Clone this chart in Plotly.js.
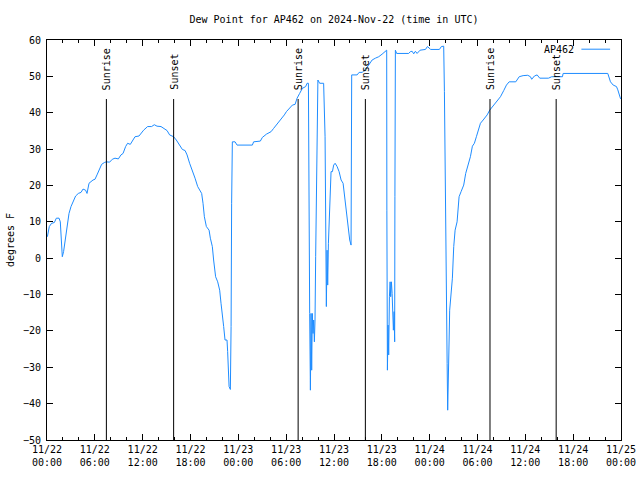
<!DOCTYPE html>
<html>
<head>
<meta charset="utf-8">
<script src="https://cdn.plot.ly/plotly-3.0.1.min.js"></script>
<style>html,body{margin:0;padding:0;background:#fff;}#chart{width:640px;height:480px;}</style>
</head>
<body>
<div id="chart"></div>
<script>
// Hours since 2024-11-22 00:00 UTC (each line pairs with the same line of dewPoint)
const hours = [
0.05,0.29,0.58,0.92,1.17,1.51,1.67,1.76,1.92,2.08,
2.26,2.42,2.58,2.76,3.01,3.34,3.59,3.93,4.27,4.52,
4.84,5.02,5.27,5.77,6.02,6.27,6.52,6.85,7.19,7.44,
7.85,8.19,8.53,8.95,9.28,9.54,9.86,10.11,10.45,10.79,
11.04,11.54,11.87,12.12,12.62,13.12,13.46,13.80,14.30,14.72,
15.06,15.38,15.88,16.22,16.56,16.98,17.32,17.57,17.89,18.23,
18.57,18.90,19.15,19.40,19.57,19.74,19.99,20.33,20.49,20.74,
20.90,21.15,21.41,21.66,21.83,22.00,22.16,22.33,22.58,22.66,
22.75,22.84,23.00,23.09,23.16,23.25,23.59,23.84,25.76,25.92,
26.76,27.01,27.52,28.11,28.43,28.77,29.11,29.44,29.77,30.03,
30.44,30.78,31.12,31.37,31.69,32.03,32.45,32.62,32.79,32.82,
32.95,33.04,33.12,33.20,33.28,33.37,33.45,33.54,33.62,33.70,
33.88,33.98,34.20,34.70,34.88,34.95,35.04,35.13,35.21,35.30,
35.46,35.55,35.63,35.80,35.96,36.14,36.39,36.64,36.89,37.14,
37.30,37.47,37.64,37.80,37.97,38.14,38.18,38.22,38.90,39.15,
39.56,39.81,40.15,40.35,40.78,41.19,41.61,42.03,42.36,42.61,
42.63,42.70,42.78,42.86,42.95,43.04,43.11,43.20,43.29,43.45,
43.54,43.61,43.64,43.70,43.86,45.37,45.58,45.80,46.00,46.21,
46.42,46.63,46.80,47.47,47.72,48.13,49.22,49.47,49.76,49.85,
49.94,50.10,50.19,50.26,50.35,50.44,50.51,50.69,50.85,51.02,
51.19,51.44,51.69,51.94,52.27,52.52,52.86,53.11,53.36,53.61,
53.86,54.12,54.37,54.71,55.21,55.53,55.87,56.21,56.54,56.88,
57.29,57.63,57.97,58.80,59.23,59.72,60.30,60.64,60.80,61.14,
61.48,61.81,62.90,63.31,64.66,64.74,70.34,70.68,71.02,71.43,
71.60,71.85,71.95
];
const dewPoint = [
5.9,8.7,9.6,9.8,11.0,11.0,10.0,5.9,0.4,1.8,
4.5,6.8,10.5,12.3,14.2,16.0,17.1,17.8,18.1,19.0,
18.7,17.8,20.6,21.5,21.7,22.9,24.2,25.8,26.3,26.5,
26.4,27.2,27.5,27.3,28.4,28.8,30.7,31.6,31.3,32.5,
33.4,33.6,34.5,35.2,36.2,36.2,36.7,36.3,36.2,35.6,
35.1,33.9,33.4,32.5,31.2,29.9,29.6,28.4,26.1,24.2,
22.0,19.7,18.7,17.8,15.1,11.4,8.7,7.7,5.5,3.2,
-0.5,-5.1,-6.5,-8.8,-12.4,-15.2,-18.8,-22.5,-22.5,-25.7,
-32.1,-35.3,-36.1,-18.8,15.1,32.0,32.0,31.1,31.1,32.0,
32.2,33.2,34.1,34.8,35.7,36.6,37.5,38.5,39.4,40.3,
41.2,42.1,42.3,44.0,45.3,46.7,47.2,48.1,48.1,27.5,
-15.2,-36.3,-15.2,-30.8,-15.2,-20.7,-17.0,-23.0,-17.0,0.4,
33.4,49.0,48.1,48.1,33.4,2.2,-13.3,2.2,-7.4,4.1,
13.2,20.1,23.8,23.8,25.6,26.1,25.2,23.8,21.5,20.6,
17.8,14.6,10.5,7.7,5.0,3.6,27.0,50.4,50.4,51.1,
51.1,51.6,52.5,53.1,54.5,55.0,55.4,56.1,56.8,57.2,
13.2,-30.8,-18.4,-26.6,-10.6,-6.5,-10.6,-6.5,-9.7,-19.8,
-14.7,-23.0,16.9,57.2,56.3,56.3,56.8,56.9,56.2,56.9,
56.3,56.9,57.2,57.4,58.2,57.4,57.4,58.2,58.3,45.8,
20.6,-4.2,-28.9,-41.8,-34.9,-22.5,-14.3,-10.1,-5.5,3.2,
7.7,10.0,16.9,18.3,20.1,23.3,25.6,27.9,30.8,31.6,
33.4,35.4,37.1,38.0,39.4,40.7,41.7,42.6,43.5,44.4,
46.1,47.6,48.5,48.5,49.9,50.2,50.3,49.9,49.2,50.1,
50.4,49.5,49.5,49.9,49.9,50.8,50.8,48.5,47.6,47.2,
46.3,44.0,43.8
];
const seriesName = 'AP462';
const sunriseTimes = ['2024-11-22 07:27', '2024-11-23 07:30', '2024-11-24 07:34'];
const sunsetTimes  = ['2024-11-22 15:53', '2024-11-23 15:56', '2024-11-24 15:52'];
const tickVals = ['2024-11-22 00:00','2024-11-22 06:00','2024-11-22 12:00','2024-11-22 18:00','2024-11-23 00:00','2024-11-23 06:00','2024-11-23 12:00','2024-11-23 18:00','2024-11-24 00:00','2024-11-24 06:00','2024-11-24 12:00','2024-11-24 18:00','2024-11-25 00:00'];
const tickText = ['11/22<br>00:00','11/22<br>06:00','11/22<br>12:00','11/22<br>18:00','11/23<br>00:00','11/23<br>06:00','11/23<br>12:00','11/23<br>18:00','11/24<br>00:00','11/24<br>06:00','11/24<br>12:00','11/24<br>18:00','11/25<br>00:00'];

const t0 = Date.UTC(2024, 10, 22, 0, 0, 0);
function fmt(ms) {
  const d = new Date(ms);
  const p = n => String(n).padStart(2, '0');
  return d.getUTCFullYear() + '-' + p(d.getUTCMonth() + 1) + '-' + p(d.getUTCDate()) + ' ' +
         p(d.getUTCHours()) + ':' + p(d.getUTCMinutes()) + ':' + p(d.getUTCSeconds());
}
const times = hours.map(h => fmt(t0 + Math.round(h * 3600) * 1000));

const FONT = 'DejaVu Sans Mono, Liberation Mono, monospace';
const BLUE = '#1E8CFF';

const shapes = [];
const annotations = [];
sunriseTimes.concat(sunsetTimes).forEach((t, i) => {
  const label = i < sunriseTimes.length ? 'Sunrise' : 'Sunset';
  shapes.push({type: 'line', xref: 'x', yref: 'paper', x0: t, x1: t, y0: 0, y1: 0.8525,
               line: {color: '#000', width: 1}});
  annotations.push({xref: 'x', yref: 'paper', x: t, y: 0.87, text: label, textangle: -90,
                    showarrow: false, xanchor: 'center', yanchor: 'bottom',
                    font: {family: FONT, size: 10, color: '#000'}});
});
// legend (text then sample line, gnuplot style)
annotations.push({xref: 'paper', yref: 'paper', x: 0.921, y: 0.977, text: seriesName,
                  showarrow: false, xanchor: 'right', yanchor: 'middle',
                  font: {family: FONT, size: 10, color: '#000'}});
shapes.push({type: 'line', xref: 'paper', yref: 'paper', x0: 0.931, x1: 0.981, y0: 0.977, y1: 0.977,
             line: {color: BLUE, width: 1}});

const trace = {
  x: times, y: dewPoint, type: 'scatter', mode: 'lines', name: seriesName,
  line: {color: BLUE, width: 1, shape: 'linear'}, showlegend: false
};

const layout = {
  width: 640, height: 480,
  margin: {l: 47, r: 19, t: 40, b: 40, pad: 0},
  paper_bgcolor: '#fff', plot_bgcolor: '#fff',
  font: {family: FONT, size: 10, color: '#000'},
  title: {text: 'Dew Point for AP462 on 2024-Nov-22 (time in UTC)', x: 0.5, xref: 'paper',
          y: 0.96, yref: 'container', yanchor: 'middle', font: {family: FONT, size: 10, color: '#000'}},
  xaxis: {
    type: 'date', range: ['2024-11-22 00:00', '2024-11-25 00:00'],
    tickmode: 'array', tickvals: tickVals, ticktext: tickText,
    ticks: 'inside', ticklen: 6, tickwidth: 1, tickcolor: '#000',
    minor: {dtick: 2 * 3600 * 1000, tick0: '2024-11-22 00:00', ticks: 'inside', ticklen: 3, tickcolor: '#000', tickwidth: 1, showgrid: false},
    showline: true, linecolor: '#000', linewidth: 1, mirror: 'allticks',
    showgrid: false, zeroline: false, fixedrange: true,
    tickfont: {family: FONT, size: 10, color: '#000'}
  },
  yaxis: {
    range: [-50, 60], tick0: -50, dtick: 10,
    ticks: 'inside', ticklen: 6, tickwidth: 1, tickcolor: '#000',
    showline: true, linecolor: '#000', linewidth: 1, mirror: 'allticks',
    showgrid: false, zeroline: false, fixedrange: true,
    tickfont: {family: FONT, size: 10, color: '#000'},
    ticklabelstandoff: 3,
    title: {text: 'degrees F', standoff: 6, font: {family: FONT, size: 10, color: '#000'}}
  },
  shapes: shapes,
  annotations: annotations,
  showlegend: false
};

Plotly.newPlot('chart', [trace], layout, {displayModeBar: false, staticPlot: true});
</script>
</body>
</html>
